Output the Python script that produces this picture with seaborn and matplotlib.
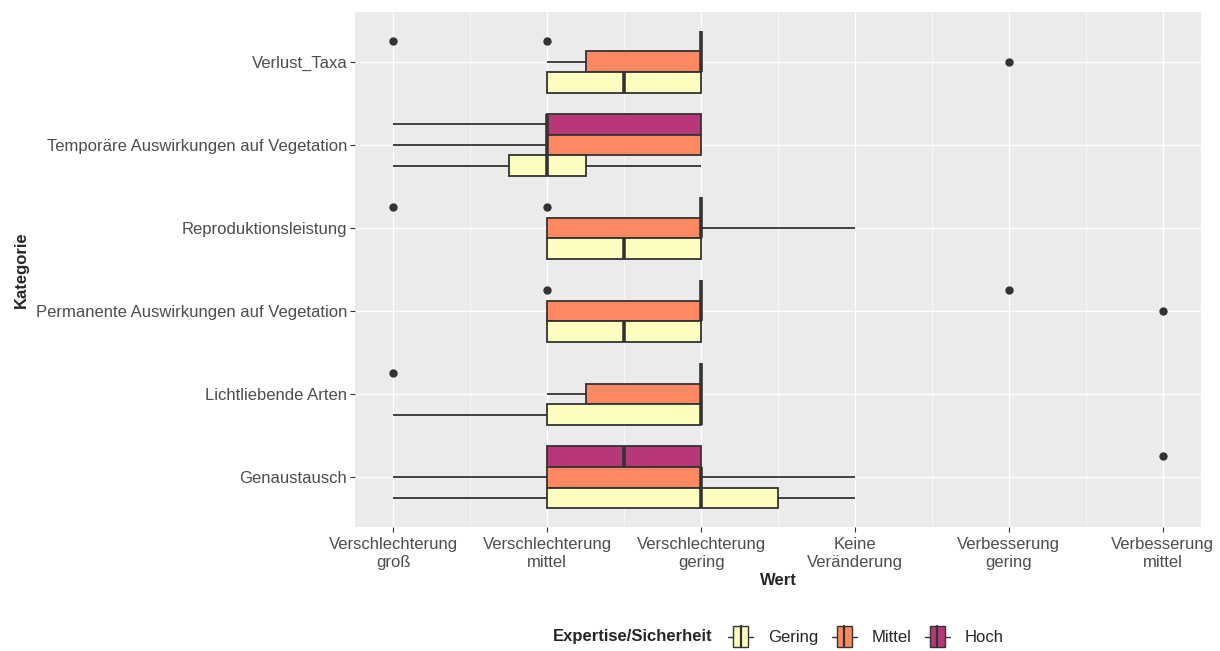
import numpy as np
import pandas as pd
import matplotlib
matplotlib.use("Agg")
import matplotlib.pyplot as plt
from matplotlib.legend_handler import HandlerBase
from matplotlib.patches import Rectangle, Patch
from matplotlib.lines import Line2D
import seaborn as sns

# categories, top to bottom as in the chart
categories = ["Verlust_Taxa", "Temporäre Auswirkungen auf Vegetation", "Reproduktionsleistung",
              "Permanente Auswirkungen auf Vegetation", "Lichtliebende Arten", "Genaustausch"]
levels = ["Gering", "Mittel", "Hoch"]
tick_values = [1, 2, 3, 4, 5, 6]
tick_labels = ["Verschlechterung\ngroß", "Verschlechterung\nmittel", "Verschlechterung\ngering",
               "Keine\nVeränderung", "Verbesserung\ngering", "Verbesserung\nmittel"]

# answers (coded 1..6) per category, one list per expertise level
gering_values = [[2, 2, 3, 3], [1, 2, 2, 3], [2, 2, 3, 3], [2, 2, 3, 3],
                 [1, 2, 2, 3, 3, 3, 3], [1, 2, 2, 3, 3, 4, 4]]
mittel_values = [[2, 2, 3, 3, 3, 5], [1, 2, 2, 2, 2, 3, 3, 3], [2, 2, 3, 3, 4], [2, 2, 3, 3, 6],
                 [2, 2, 3, 3, 3, 3], [1, 2, 2, 3, 3, 3, 4]]
hoch_values = [[1, 2, 3, 3, 3, 3, 3, 3, 3], [1, 2, 2, 2, 2, 3, 3, 3], [1, 2, 3, 3, 3, 3, 3, 3, 3],
               [2, 3, 3, 3, 3, 3, 3, 3, 5], [1, 3, 3, 3, 3], [2, 2, 2, 3, 3, 6]]

rows = []
for level, vals in zip(levels, [gering_values, mittel_values, hoch_values]):
    for cat, v in zip(categories, vals):
        for x in v:
            rows.append({"Kategorie": cat, "Expertise": level, "Wert": x})
df = pd.DataFrame(rows)

cmap = plt.get_cmap("magma")
colors = {"Gering": cmap(1.0), "Mittel": cmap(0.75), "Hoch": cmap(0.5)}
edge = "#333333"

sns.set_style("darkgrid", {"axes.facecolor": "#EBEBEB", "grid.color": "white"})
plt.rcParams["font.family"] = ["Liberation Sans", "DejaVu Sans"]

fig = plt.figure(figsize=(12.2, 6.51), dpi=100)
ax = fig.add_axes([355 / 1220, 1 - 527 / 651, (1201 - 355) / 1220, (527 - 12) / 651])

sns.boxplot(data=df, x="Wert", y="Kategorie", hue="Expertise", order=categories,
            hue_order=["Hoch", "Mittel", "Gering"], palette=colors, saturation=1,
            width=0.75, gap=0, showcaps=False, whis=1.5, linewidth=1.3, linecolor=edge,
            legend=False,
            flierprops=dict(marker="o", markerfacecolor=edge, markeredgecolor=edge, markersize=5),
            medianprops=dict(linewidth=2.6, color=edge), ax=ax)

ax.set_xlim(0.75, 6.25)
ax.set_ylim(5.6, -0.6)
ax.set_xticks(tick_values)
ax.set_xticklabels(tick_labels, linespacing=1.25)
ax.set_xticks(np.arange(1.5, 6, 1), minor=True)
ax.grid(which="major", color="white", linewidth=1.0)
ax.grid(which="minor", axis="x", color="white", linewidth=0.5)
ax.set_axisbelow(True)
for s in ax.spines.values():
    s.set_visible(False)
ax.tick_params(axis="both", which="major", bottom=True, left=True, length=3.5, width=0.8,
               color=edge, labelsize=12, labelcolor="#4D4D4D", pad=2)
ax.tick_params(axis="x", which="major", pad=4)
ax.tick_params(axis="x", which="minor", bottom=False)
ax.set_xlabel("Wert", fontsize=12, fontweight="bold", labelpad=2)
ax.set_ylabel("Kategorie", fontsize=12, fontweight="bold", labelpad=5)


class BoxKey(HandlerBase):
    def create_artists(self, legend, orig_handle, xdescent, ydescent, width, height, fontsize, trans):
        x0, y0 = -xdescent, -ydescent
        fc = orig_handle.get_facecolor()
        ym = y0 + height / 2
        whisk = Line2D([x0, x0 + width], [ym, ym], color=edge, lw=1.0, transform=trans)
        box = Rectangle((x0 + 0.2 * width, y0 - 0.15 * height), 0.6 * width, 1.3 * height,
                        facecolor=fc, edgecolor=edge, lw=1.0, transform=trans)
        med = Line2D([x0 + width / 2] * 2, [y0 - 0.15 * height, y0 + 1.15 * height],
                     color=edge, lw=1.6, transform=trans)
        return [whisk, box, med]


handles = [Patch(facecolor=colors[l], label=l) for l in levels]
fig.text(713 / 1220, 1 - 637 / 651, "Expertise/Sicherheit", ha="right", va="center",
         fontsize=12, fontweight="bold")
fig.legend(handles=handles, labels=levels, handler_map={Patch: BoxKey()},
           loc="center left", bbox_to_anchor=(728 / 1220, 1 - 637 / 651), ncol=3,
           frameon=False, fontsize=12, handlelength=1.5, handleheight=1.1,
           columnspacing=0.8, handletextpad=0.9, borderaxespad=0, borderpad=0)

fig.savefig("out.png", dpi=100)
